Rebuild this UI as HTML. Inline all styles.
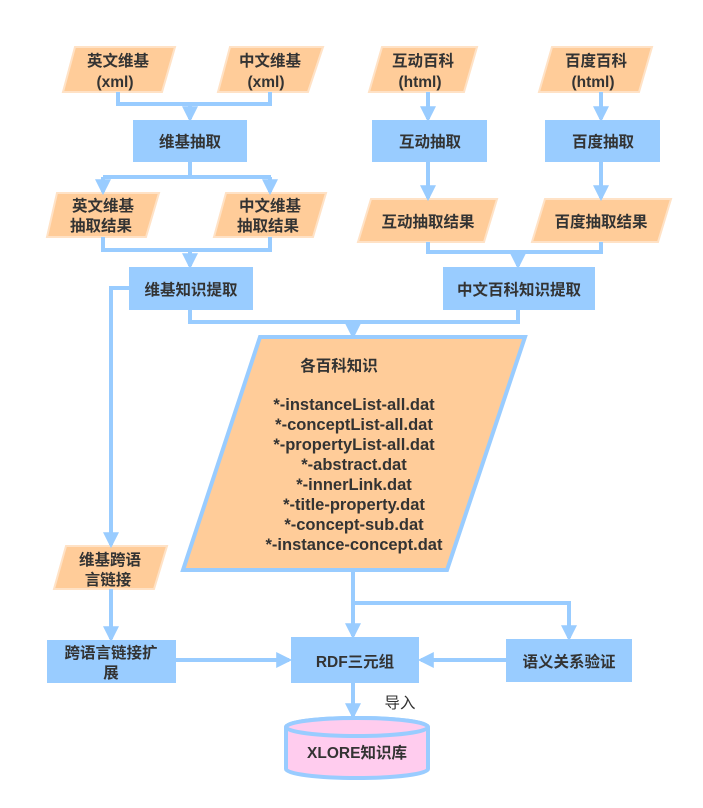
<!DOCTYPE html>
<html><head><meta charset="utf-8"><style>
html,body{margin:0;padding:0;background:#fff;width:703px;height:808px;overflow:hidden}
svg text{font-family:"Liberation Sans","Noto Sans CJK SC",sans-serif;font-weight:bold;font-size:15.5px;fill:#333;text-anchor:middle}
svg text.l{font-size:16.5px}
</style></head><body>
<svg width="703" height="808" viewBox="0 0 703 808" xmlns="http://www.w3.org/2000/svg">
<defs>
<marker id="a" markerWidth="4" markerHeight="4" refX="3.2" refY="2" orient="auto" markerUnits="strokeWidth">
<path d="M0,0 L4,2 L0,4 z" fill="#99ccff"/></marker>
</defs>
<g fill="#ffcc99" stroke="#ffe2c6" stroke-width="2">
<polygon points="75,47 175,47 162,92 63,92"/>
<polygon points="230,47 323,47 308,92 218,92"/>
<polygon points="382,47 477,47 464,92 369,92"/>
<polygon points="552,47 652,47 639,92 539,92"/>
<polygon points="57,193 159,193 146,237 47,237"/>
<polygon points="226,193 326,193 313,237 214,237"/>
<polygon points="371,199 497,199 484,242 358,242"/>
<polygon points="545,199 671,199 658,242 532,242"/>
<polygon points="66,546 167,546 154,589 54,589"/>
</g>
<polygon points="260,337 525,337 447,570 183,570" fill="#ffcc99" stroke="#99ccff" stroke-width="4"/>
<g fill="#99ccff">
<rect x="133" y="120" width="114" height="42"/>
<rect x="372" y="120" width="115" height="42"/>
<rect x="545" y="120" width="115" height="42"/>
<rect x="129" y="267" width="124" height="43"/>
<rect x="443" y="267" width="152" height="43"/>
<rect x="47" y="640" width="129" height="43"/>
<rect x="291" y="637" width="128" height="46"/>
<rect x="506" y="639" width="126" height="43"/>
</g>
<g fill="none" stroke="#99ccff" stroke-width="4">
<path d="M118,92 V104 H270 V92"/>
<path d="M190,104 V119" marker-end="url(#a)"/>
<path d="M190,162 V177 M103,177 H271"/>
<path d="M103,177 V192" marker-end="url(#a)"/>
<path d="M270,177 V192" marker-end="url(#a)"/>
<path d="M103,237 V250 H270 V237"/>
<path d="M190,250 V266" marker-end="url(#a)"/>
<path d="M428,92 V119" marker-end="url(#a)"/>
<path d="M601,92 V119" marker-end="url(#a)"/>
<path d="M428,162 V198" marker-end="url(#a)"/>
<path d="M601,162 V198" marker-end="url(#a)"/>
<path d="M428,242 V252 H601 V242"/>
<path d="M518,252 V266" marker-end="url(#a)"/>
<path d="M190,310 V322 H518 V310"/>
<path d="M353,322 V336" marker-end="url(#a)"/>
<path d="M129,288 H111 V545" marker-end="url(#a)"/>
<path d="M111,589 V639" marker-end="url(#a)"/>
<path d="M353,570 V636" marker-end="url(#a)"/>
<path d="M353,603 H569 V638" marker-end="url(#a)"/>
<path d="M176,660 H289" marker-end="url(#a)"/>
<path d="M506,660 H421" marker-end="url(#a)"/>
<path d="M353,683 V716" marker-end="url(#a)"/>
</g>
<g stroke="#99ccff" stroke-width="4">
<path d="M286,727 V769 A71,9 0 0 0 428,769 V727 A71,9 0 0 0 286,727 z" fill="#ffccee"/>
<ellipse cx="357" cy="727" rx="71" ry="9" fill="#ffccee"/>
</g>
<text x="118" y="66">英文维基</text><text x="115" y="87">(xml)</text>
<text x="270" y="66">中文维基</text><text x="266" y="87">(xml)</text>
<text x="423" y="66">互动百科</text><text x="420" y="87">(html)</text>
<text x="596" y="66">百度百科</text><text x="593" y="87">(html)</text>
<text x="190" y="147">维基抽取</text>
<text x="430" y="147">互动抽取</text>
<text x="603" y="147">百度抽取</text>
<text x="103" y="211">英文维基</text><text x="101" y="231">抽取结果</text>
<text x="270" y="211">中文维基</text><text x="268" y="231">抽取结果</text>
<text x="428" y="227">互动抽取结果</text>
<text x="601" y="227">百度抽取结果</text>
<text x="191" y="295">维基知识提取</text>
<text x="519" y="295">中文百科知识提取</text>
<text x="339" y="371">各百科知识</text>
<text class="l" x="354" y="410">*-instanceList-all.dat</text>
<text class="l" x="354" y="430">*-conceptList-all.dat</text>
<text class="l" x="354" y="450">*-propertyList-all.dat</text>
<text class="l" x="354" y="470">*-abstract.dat</text>
<text class="l" x="354" y="490">*-innerLink.dat</text>
<text class="l" x="354" y="510">*-title-property.dat</text>
<text class="l" x="354" y="530">*-concept-sub.dat</text>
<text class="l" x="354" y="550">*-instance-concept.dat</text>
<text x="110" y="565">维基跨语</text><text x="108" y="585">言链接</text>
<text x="111" y="658">跨语言链接扩</text><text x="111" y="678">展</text>
<text x="355" y="667">RDF三元组</text>
<text x="569" y="667">语义关系验证</text>
<text x="400" y="708" style="font-weight:normal">导入</text>
<text x="357" y="758">XLORE知识库</text>
</svg>
</body></html>
